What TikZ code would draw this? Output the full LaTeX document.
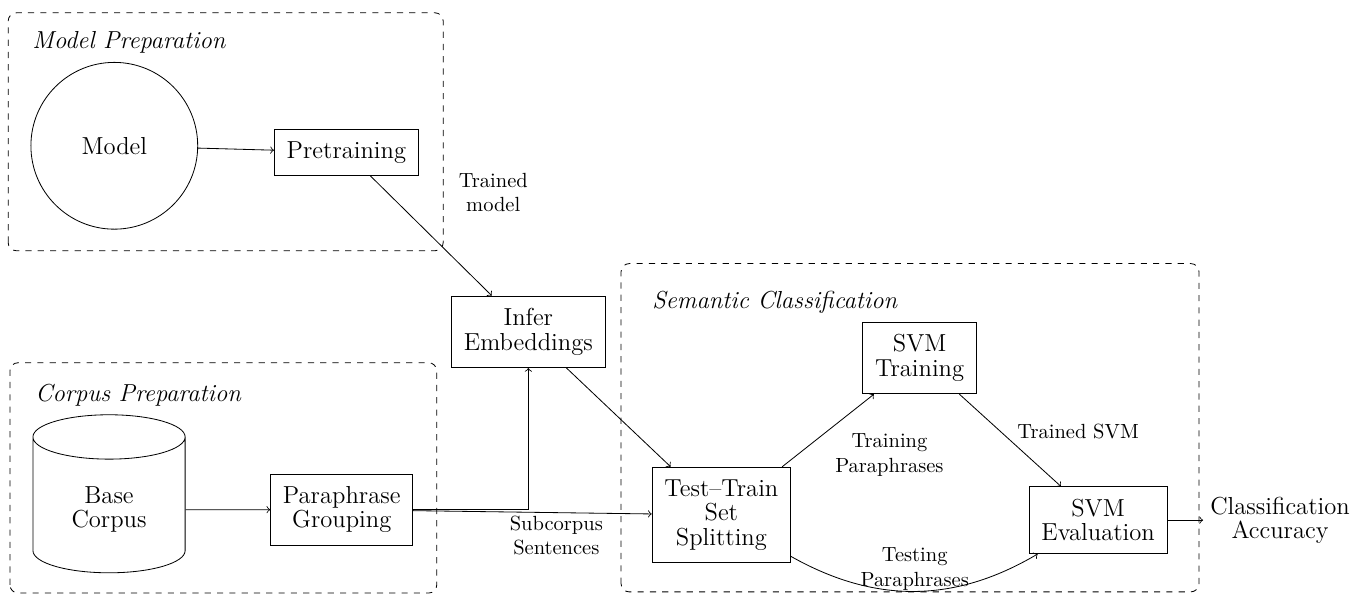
\documentclass[tikz,border=0pt]{standalone}
\usetikzlibrary{shapes.geometric}

\newcommand{\procsize}{\fontsize{12}{12}\selectfont}
\tikzstyle{process}=[rectangle, draw, align=center, inner sep=6pt, font=\procsize]
\tikzstyle{storage}=[cylinder, shape border rotate=90, aspect=0.5, draw, align=center, font=\procsize, minimum width=2.61cm, minimum height=2.71cm]
\tikzstyle{groupbox}=[draw, dashed, rounded corners]
\tikzstyle{grouptitle}=[anchor=west, inner sep=0pt, font=\large\itshape]
\tikzstyle{flowlabel}=[align=center, font=\normalsize]

\begin{document}
\begin{tikzpicture}
\useasboundingbox (0,0) rectangle (23.39,10.20);

% dashed groups
\draw[groupbox] (0.14,5.90) rectangle (7.60,9.98);
\draw[groupbox] (0.17,0.03) rectangle (7.49,3.98);
\draw[groupbox] (10.65,0.05) rectangle (20.56,5.68);
\node[grouptitle] (tmodel) at (0.55,9.47) {Model Preparation};
\node[grouptitle] (tcorpus) at (0.60,3.43) {Corpus Preparation};
\node[grouptitle] (tsem) at (11.18,5.01) {Semantic Classification};

% stages
\node[circle, draw, minimum size=2.86cm, font=\procsize] (model) at (1.96,7.70) {Model};
\node[process] (pre) at (5.94,7.59) {Pretraining};
\node[storage] (base) at (1.87,1.46) {Base\\Corpus};
\node[process] (para) at (5.86,1.46) {Paraphrase\\Grouping};
\node[process] (infer) at (9.06,4.51) {Infer\\Embeddings};
\node[process] (split) at (12.37,1.37) {Test--Train\\Set\\Splitting};
\node[process] (svmtrain) at (15.77,4.06) {SVM\\Training};
\node[process] (svmeval) at (18.83,1.28) {SVM\\Evaluation};
\node[align=center, font=\procsize] (acc) at (21.95,1.28) {Classification\\Accuracy};

% flow
\draw[->] (model) -- (pre);
\draw[->] (pre) -- node[flowlabel, midway, above right, xshift=10pt, yshift=8pt] (ltrained) {Trained\\model} (infer);
\draw[->] (base) -- (para);
\draw[->] (para) -| (infer);
\draw[->] (para) -- node[flowlabel, pos=0.6, below, yshift=2pt] (lsub) {Subcorpus\\Sentences} (split);
\draw[->] (infer) -- (split);
\draw[->] (split) -- node[flowlabel, midway, below right, yshift=2pt] (ltrain) {Training\\Paraphrases} (svmtrain);
\draw[->] (split) to[bend right] node[flowlabel, midway, above, yshift=-3pt] (ltest) {Testing\\Paraphrases} (svmeval);
\draw[->] (svmtrain) -- node[flowlabel, midway, above right, yshift=-3pt] (lsvm) {Trained SVM} (svmeval);
\draw[->] (svmeval) -- (acc);
\end{tikzpicture}
\end{document}
